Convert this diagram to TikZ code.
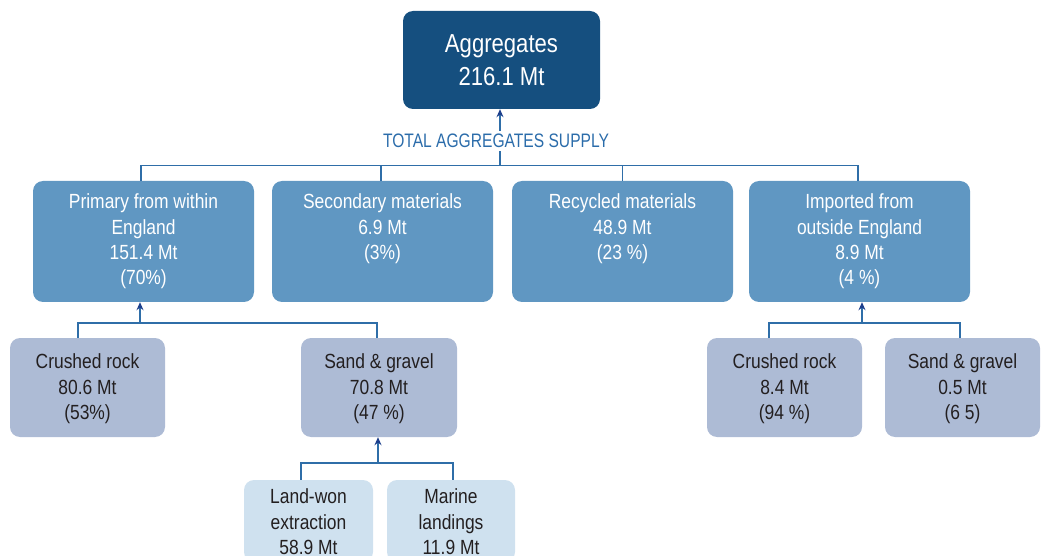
\documentclass[tikz,border=0pt]{standalone}
\usepackage{fontspec}
\setmainfont{Liberation Sans}[FakeStretch=0.85]
\newfontfamily\capsfont{Liberation Sans}[FakeStretch=0.8]
\usetikzlibrary{arrows.meta,calc}
\definecolor{topc}{HTML}{154F7F}
\definecolor{midc}{HTML}{6097C2}
\definecolor{lowc}{HTML}{ADBBD5}
\definecolor{palec}{HTML}{CFE1EF}
\definecolor{linec}{HTML}{2F6EA8}
\definecolor{tipc}{HTML}{1D3F8C}
\definecolor{darktext}{HTML}{231F20}
\definecolor{labc}{HTML}{2B6CAA}
\begin{document}
\begin{tikzpicture}[x=1pt,y=-1pt,
 box/.style={rectangle, rounded corners=10pt, inner sep=0pt},
 topbox/.style={box, fill=topc, minimum width=197pt, minimum height=98pt, text=white, align=center, font=\fontsize{26}{33}\selectfont},
 midbox/.style={box, fill=midc, minimum width=221pt, minimum height=121pt},
 lowbox/.style={box, fill=lowc, minimum height=99pt},
 palebox/.style={box, fill=palec, minimum height=82pt},
 midtext/.style={text=white, align=center, anchor=base, inner sep=0pt, font=\fontsize{20.5}{25.4}\selectfont},
 lowtext/.style={midtext, text=darktext},
 conn/.style={draw=linec, line width=1.3pt},
 arr/.style={conn, -{Stealth[length=8pt,width=7pt,color=tipc]}},
]
\path[use as bounding box] (0,0) rectangle (1045,556);
\clip (0,0) rectangle (1045,556);

% top
\node[topbox] (agg) at (501.5,60) {Aggregates\\216.1 Mt};
\node[font=\capsfont\fontsize{19.5}{20}\selectfont, text=labc, inner sep=3pt] (tot) at (496,141) {TOTAL AGGREGATES SUPPLY};

% level 1
\node[midbox] (prim) at (143.5,241.5) {};
\node[midbox] (sec)  at (382.5,241.5) {};
\node[midbox] (rec)  at (622.5,241.5) {};
\node[midbox] (imp)  at (859.5,241.5) {};
\node[midtext] (primt) at ([yshift=-104.2pt]prim.north) {Primary from within\\England\\151.4 Mt\\(70\%)};
\node[midtext] (sect) at ([yshift=-78.8pt]sec.north) {Secondary materials\\6.9 Mt\\(3\%)};
\node[midtext] (rect) at ([yshift=-78.8pt]rec.north) {Recycled materials\\48.9 Mt\\(23 \%)};
\node[midtext] (impt) at ([yshift=-104.2pt]imp.north) {Imported from\\outside England\\8.9 Mt\\(4 \%)};

% level 2
\node[lowbox, minimum width=155pt] (pcr) at (87.5,387.5) {};
\node[lowbox, minimum width=156pt] (psg) at (379,387.5) {};
\node[lowbox, minimum width=155pt] (icr) at (784.5,387.5) {};
\node[lowbox, minimum width=155pt] (isg) at (962.5,387.5) {};
\node[lowtext] (pcrt) at ([yshift=-81.8pt]pcr.north) {Crushed rock\\80.6 Mt\\(53\%)};
\node[lowtext] (psgt) at ([yshift=-81.8pt]psg.north) {Sand \& gravel\\70.8 Mt\\(47 \%)};
\node[lowtext] (icrt) at ([yshift=-81.8pt]icr.north) {Crushed rock\\8.4 Mt\\(94 \%)};
\node[lowtext] (isgt) at ([yshift=-81.8pt]isg.north) {Sand \& gravel\\0.5 Mt\\(6 5)};

% level 3
\node[palebox, minimum width=129pt] (land) at (308.5,521) {};
\node[palebox, minimum width=128pt] (mar) at (451,521) {};
\node[lowtext] (landt) at ([yshift=-74.8pt]land.north) {Land-won\\extraction\\58.9 Mt};
\node[lowtext] (mart) at ([yshift=-74.8pt]mar.north) {Marine\\landings\\11.9 Mt};

% top connectors
\coordinate (bus) at (500,165.5);
\draw[arr] (tot.north -| bus) -- (bus |- agg.south);
\draw[conn] (bus) -- (bus |- tot.south);
\coordinate (v1) at ([xshift=-2.5pt]prim.north);
\coordinate (v2) at ([xshift=-1.5pt]sec.north);
\coordinate (v3) at (rec.north);
\coordinate (v4) at ([xshift=-1.5pt]imp.north);
\draw[conn] (v1) |- (bus) -| (v4);
\draw[conn] (v2) -- (v2 |- bus);
\draw[conn] (v3) -- (v3 |- bus);

% primary children
\coordinate (j1) at (140,323);
\draw[arr] (j1) -- (j1 |- prim.south);
\coordinate (c1) at ([xshift=-9.5pt]pcr.north);
\coordinate (c2) at ([xshift=-2pt]psg.north);
\draw[conn] (c1) |- (j1) -| (c2);

% imported children
\coordinate (j2) at (862,323);
\draw[arr] (j2) -- (j2 |- imp.south);
\coordinate (c3) at ([xshift=-15.5pt]icr.north);
\coordinate (c4) at ([xshift=-2.5pt]isg.north);
\draw[conn] (c3) |- (j2) -| (c4);

% sand & gravel children
\coordinate (j3) at (378,463);
\draw[arr] (j3) -- (j3 |- psg.south);
\coordinate (c5) at ([xshift=-7.5pt]land.north);
\coordinate (c6) at ([xshift=2pt]mar.north);
\draw[conn] (c5) |- (j3) -| (c6);
\end{tikzpicture}
\end{document}
